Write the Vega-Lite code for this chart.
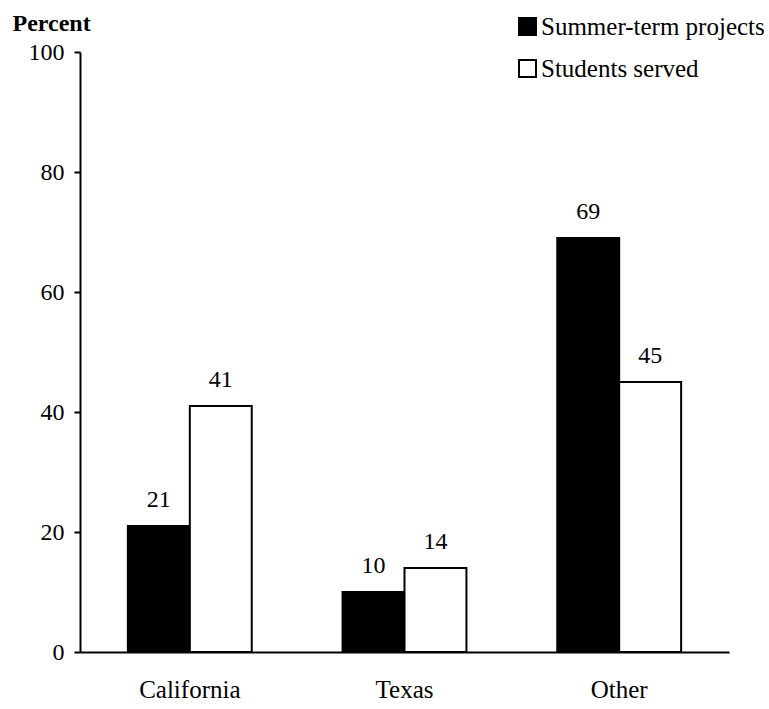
{
  "$schema": "https://vega.github.io/schema/vega-lite/v6.json",
  "width": 649,
  "height": 600,
  "autosize": {"type": "none"},
  "padding": {"left": 80, "top": 52, "right": 40, "bottom": 57},
  "background": "white",
  "config": {
    "view": {"stroke": null},
    "font": "Liberation Serif",
    "axis": {"labelFont": "Liberation Serif", "titleFont": "Liberation Serif", "labelColor": "black", "titleColor": "black", "domainColor": "black", "tickColor": "black"},
    "legend": {"labelFont": "Liberation Serif"}
  },
  "data": {
    "values": [
      {"region": "California", "series": "Summer-term projects", "value": 21},
      {"region": "California", "series": "Students served", "value": 41},
      {"region": "Texas", "series": "Summer-term projects", "value": 10},
      {"region": "Texas", "series": "Students served", "value": 14},
      {"region": "Other", "series": "Summer-term projects", "value": 69},
      {"region": "Other", "series": "Students served", "value": 45}
    ]
  },
  "encoding": {
    "x": {
      "field": "region", "type": "nominal", "sort": ["California", "Texas", "Other"],
      "scale": {"paddingInner": 0.423, "paddingOuter": 0.223},
      "axis": {"title": null, "labelAngle": 0, "labelFontSize": 25, "labelPadding": 25, "ticks": false, "domainWidth": 2}
    },
    "xOffset": {"field": "series", "type": "nominal", "sort": ["Summer-term projects", "Students served"]},
    "y": {
      "field": "value", "type": "quantitative",
      "scale": {"domain": [0, 100]},
      "axis": {
        "values": [0, 20, 40, 60, 80, 100], "grid": false, "labelFontSize": 24, "labelPadding": 10, "tickSize": 6, "tickWidth": 2, "domainWidth": 2,
        "title": "Percent", "titleAngle": 0, "titleFontSize": 24, "titleFontWeight": "bold", "titleAlign": "left", "titleBaseline": "alphabetic", "titleX": -68, "titleY": -22
      }
    }
  },
  "layer": [
    {
      "mark": {"type": "bar", "stroke": "black", "strokeWidth": 2},
      "encoding": {
        "fill": {
          "field": "series", "type": "nominal",
          "scale": {"domain": ["Summer-term projects", "Students served"], "range": ["black", "white"]},
          "legend": {
            "title": null, "orient": "none", "legendX": 435, "legendY": -38, "direction": "vertical",
            "symbolType": "square", "symbolSize": 289, "symbolStrokeColor": "black", "symbolStrokeWidth": 2,
            "labelFontSize": 25, "labelColor": "black", "labelOffset": 1, "rowPadding": 16, "labelLimit": 400
          }
        }
      }
    },
    {
      "mark": {"type": "text", "fontSize": 24, "baseline": "alphabetic", "dy": -19, "color": "black", "font": "Liberation Serif"},
      "encoding": {"text": {"field": "value", "type": "quantitative"}}
    }
  ]
}
